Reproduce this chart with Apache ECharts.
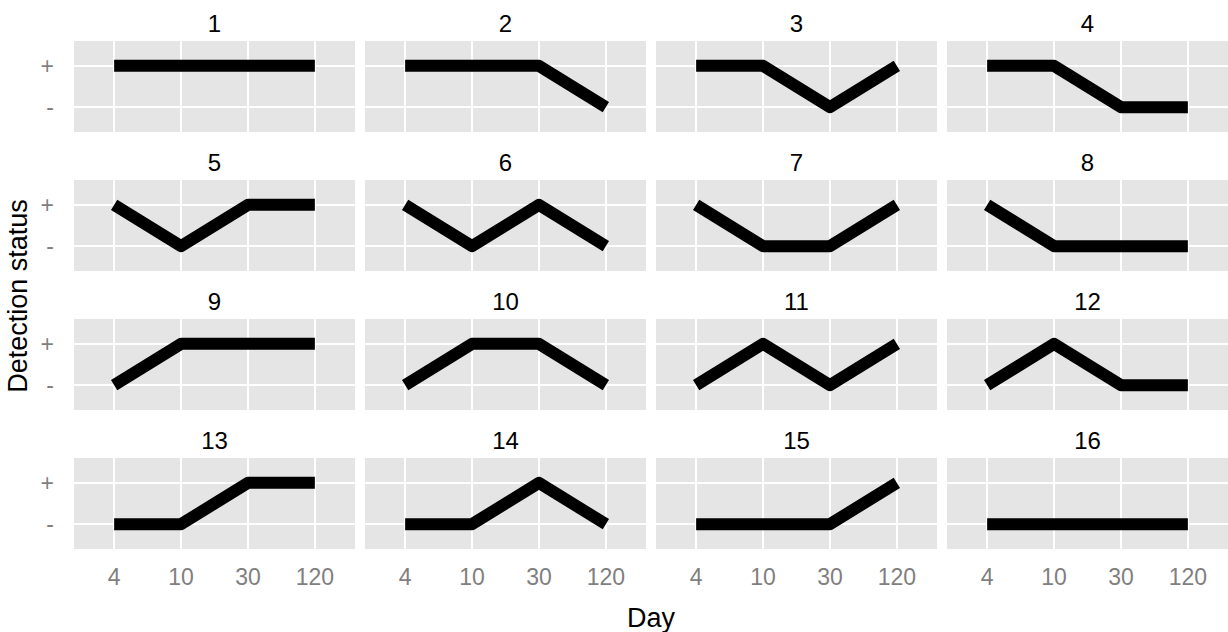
<!DOCTYPE html>
<html><head><meta charset="utf-8">
<script src="https://cdn.jsdelivr.net/npm/echarts@6/dist/echarts.min.js"></script>
<style>html,body{margin:0;padding:0;background:#fff}#c{width:1228px;height:632px}</style>
</head><body><div id="c"></div>
<script>
// Data
const days = ['4', '10', '30', '120'];
const statusLevels = ['-', '+'];
const panelNames = ['1','2','3','4','5','6','7','8','9','10','11','12','13','14','15','16'];
const status1  = ['+','+','+','+'];
const status2  = ['+','+','+','-'];
const status3  = ['+','+','-','+'];
const status4  = ['+','+','-','-'];
const status5  = ['+','-','+','+'];
const status6  = ['+','-','+','-'];
const status7  = ['+','-','-','+'];
const status8  = ['+','-','-','-'];
const status9  = ['-','+','+','+'];
const status10 = ['-','+','+','-'];
const status11 = ['-','+','-','+'];
const status12 = ['-','+','-','-'];
const status13 = ['-','-','+','+'];
const status14 = ['-','-','+','-'];
const status15 = ['-','-','-','+'];
const status16 = ['-','-','-','-'];
const allStatus = [status1,status2,status3,status4,status5,status6,status7,status8,
                   status9,status10,status11,status12,status13,status14,status15,status16];

// Layout
const colLeft = [74, 365, 656, 947];
const rowTop = [41, 180, 319, 458];
const panelW = 281, panelH = 91;
const FONT = '"Liberation Sans", Arial, sans-serif';
const TICK_FS = 23, STRIP_FS = 24, TITLE_FS = 27;

const grids = [], xAxes = [], yAxes = [], series = [], graphics = [];
for (let i = 0; i < 16; i++) {
  const r = Math.floor(i / 4), c = i % 4;
  grids.push({left: colLeft[c], top: rowTop[r], width: panelW, height: panelH,
    show: true, backgroundColor: '#E5E5E5', borderWidth: 0, containLabel: false});
  xAxes.push({type: 'value', gridIndex: i, min: 0.4, max: 4.6,
    axisLine: {show: false},
    axisTick: {show: false, customValues: [1, 2, 3, 4]},
    axisLabel: {show: r === 3, customValues: [1, 2, 3, 4], margin: 16,
      formatter: v => days[Math.round(v) - 1], color: '#7F7F7F', fontSize: TICK_FS, fontFamily: FONT},
    splitLine: {show: true, lineStyle: {color: '#FFFFFF', width: 2}}});
  yAxes.push({type: 'value', gridIndex: i, min: 0.4, max: 2.6,
    axisLine: {show: false},
    axisTick: {show: false, customValues: [1, 2]},
    axisLabel: {show: c === 0, customValues: [1, 2], margin: 20,
      formatter: v => statusLevels[Math.round(v) - 1], color: '#7F7F7F', fontSize: TICK_FS, fontFamily: FONT},
    splitLine: {show: true, lineStyle: {color: '#FFFFFF', width: 2}}});
  series.push({type: 'line', xAxisIndex: i, yAxisIndex: i, symbol: 'none', silent: true,
    data: allStatus[i].map((s, k) => [k + 1, statusLevels.indexOf(s) + 1]),
    lineStyle: {color: '#000000', width: 12, cap: 'butt', join: 'round'}});
  graphics.push({type: 'text', x: colLeft[c] + panelW / 2, y: rowTop[r] - 18,
    style: {text: panelNames[i], align: 'center', verticalAlign: 'middle',
      fontSize: STRIP_FS, fontFamily: FONT, fill: '#000000'}});
}
graphics.push({type: 'text', x: 651, y: 618,
  style: {text: 'Day', align: 'center', verticalAlign: 'middle', fontSize: TITLE_FS, fontFamily: FONT, fill: '#000000'}});
graphics.push({type: 'text', x: 18, y: 296, rotation: Math.PI / 2,
  style: {text: 'Detection status', align: 'center', verticalAlign: 'middle', fontSize: TITLE_FS, fontFamily: FONT, fill: '#000000'}});

const chart = echarts.init(document.getElementById('c'), null, {renderer: 'svg'});
chart.setOption({
  animation: false,
  grid: grids, xAxis: xAxes, yAxis: yAxes, series: series, graphic: graphics
});
</script></body></html>
